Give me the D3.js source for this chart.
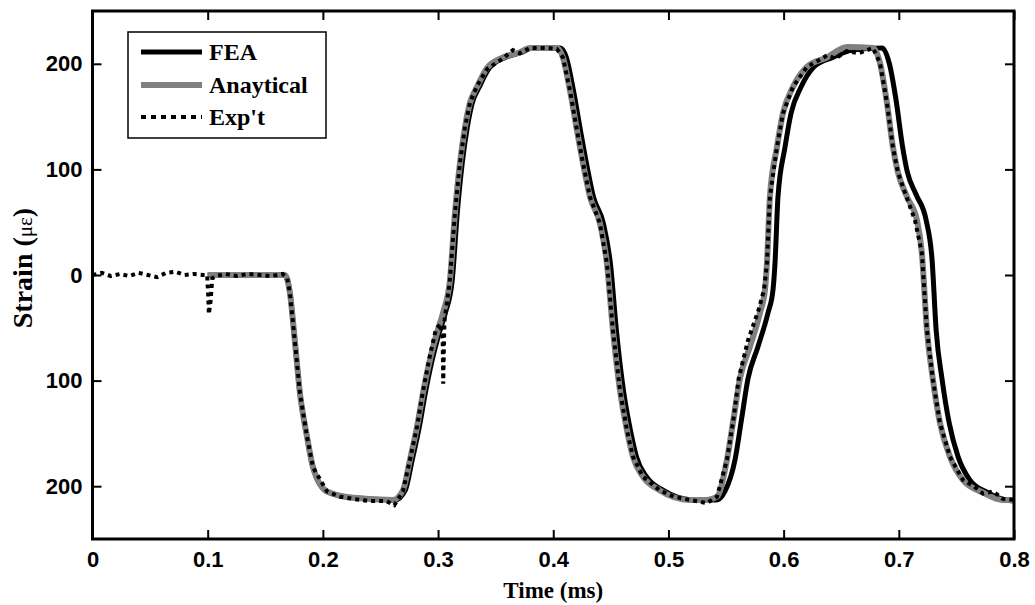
<!DOCTYPE html>
<html>
<head>
<meta charset="utf-8">
<script src="https://cdn.jsdelivr.net/npm/d3@7"></script>
<style>
  body { margin: 0; background: #fff; }
  .tick text { font-family: "Liberation Sans", Arial, sans-serif; font-weight: bold; font-size: 22px; fill: #000; }
  .tick line { stroke: #000; stroke-width: 2; }
</style>
</head>
<body>
<div id="chart"></div>
<script>
// time in ms, strain in microstrain
var feaT = [0.100, 0.167, 0.1714, 0.1758, 0.1801, 0.1862, 0.1914, 0.2036, 0.2261, 0.2630, 0.2715, 0.2776, 0.2837, 0.2889, 0.2950, 0.3010, 0.3063, 0.3123, 0.3167, 0.3210, 0.3254, 0.3297, 0.3358, 0.3445, 0.3583, 0.3731, 0.3818, 0.4062, 0.4114, 0.4175, 0.4236, 0.4288, 0.4349, 0.4435, 0.4496, 0.4548, 0.4609, 0.4670, 0.4722, 0.4809, 0.4956, 0.5217, 0.5420, 0.5490, 0.5578, 0.5634, 0.5691, 0.5777, 0.5864, 0.5908, 0.5925, 0.5951, 0.6012, 0.6064, 0.6151, 0.6262, 0.6426, 0.6599, 0.6855, 0.6916, 0.6977, 0.7029, 0.7073, 0.7151, 0.7237, 0.7289, 0.7324, 0.7376, 0.7437, 0.7514, 0.7616, 0.7770, 0.7920, 0.800];
var feaV = [0, 0, -17, -64, -112, -153, -182, -205, -211, -213, -204, -175, -144, -112, -80, -55, -36, -5, 59, 106, 140, 163, 178, 196, 206, 211, 215, 215, 206, 175, 137, 106, 74, 49, 11, -52, -109, -147, -172, -191, -204, -213, -213, -205, -175, -137, -98, -68, -36, -14, 11, 74, 121, 153, 178, 197, 206, 213, 215, 201, 165, 124, 98, 76, 52, 14, -52, -99, -140, -172, -194, -206, -213, -214];

var anaT = [0.100, 0.167, 0.1714, 0.1758, 0.1801, 0.1862, 0.1914, 0.2036, 0.2261, 0.2609, 0.2695, 0.2756, 0.2817, 0.2869, 0.2930, 0.2990, 0.3043, 0.3103, 0.3147, 0.3190, 0.3234, 0.3277, 0.3338, 0.3425, 0.3563, 0.3711, 0.3798, 0.4032, 0.4084, 0.4145, 0.4206, 0.4258, 0.4319, 0.4405, 0.4466, 0.4518, 0.4579, 0.4640, 0.4692, 0.4779, 0.4926, 0.5187, 0.5334, 0.5421, 0.5508, 0.5564, 0.5621, 0.5707, 0.5794, 0.5838, 0.5855, 0.5881, 0.5942, 0.5994, 0.6081, 0.6202, 0.6376, 0.6549, 0.6775, 0.6836, 0.6897, 0.6949, 0.6993, 0.7071, 0.7157, 0.7200, 0.7244, 0.7296, 0.7357, 0.7444, 0.7556, 0.7730, 0.7904, 0.800];
var anaV = [0, 0, -17, -64, -112, -153, -182, -205, -211, -213, -204, -175, -144, -112, -80, -55, -36, -5, 59, 106, 140, 163, 178, 196, 206, 211, 215, 215, 206, 175, 137, 106, 74, 49, 11, -52, -109, -147, -172, -191, -204, -213, -213, -210, -175, -137, -98, -68, -36, -14, 11, 74, 121, 153, 178, 197, 206, 216, 215, 201, 163, 121, 97, 74, 52, 21, -52, -99, -140, -172, -194, -206, -213, -213];

var expT = [0.000, 0.008, 0.016, 0.024, 0.032, 0.040, 0.048, 0.056, 0.064, 0.072, 0.080, 0.088, 0.096, 0.0995, 0.1005, 0.1010, 0.1025, 0.1040, 0.1080, 0.115, 0.125, 0.135, 0.145, 0.155, 0.165, 0.1690, 0.1714, 0.1758, 0.1801, 0.1862, 0.1914, 0.2036, 0.2150, 0.2261, 0.2400, 0.2550, 0.2620, 0.2695, 0.2756, 0.2817, 0.2869, 0.2930, 0.2980, 0.3020, 0.3040, 0.3045, 0.3055, 0.3100, 0.3147, 0.3190, 0.3234, 0.3277, 0.3338, 0.3425, 0.3563, 0.3650, 0.3711, 0.3798, 0.3950, 0.4032, 0.4084, 0.4145, 0.4206, 0.4258, 0.4319, 0.4405, 0.4466, 0.4518, 0.4579, 0.4640, 0.4692, 0.4779, 0.4926, 0.5050, 0.5187, 0.5334, 0.5421, 0.5508, 0.5564, 0.5610, 0.5690, 0.5780, 0.5830, 0.5855, 0.5881, 0.5942, 0.5994, 0.6081, 0.6202, 0.6300, 0.6376, 0.6450, 0.6549, 0.6650, 0.6775, 0.6836, 0.6897, 0.6949, 0.6993, 0.7060, 0.7140, 0.7200, 0.7244, 0.7296, 0.7357, 0.7444, 0.7556, 0.7650, 0.7730, 0.7820, 0.7904, 0.800];
var expV = [0, 2, -1, 1, -1, 2, 0, -2, 2, 3, 0, 1, 0, 0, -20, -37, -25, -3, -1, 1, -1, 1, 0, -1, 1, -3, -17, -64, -112, -153, -182, -205, -210, -212, -214, -214, -218, -205, -175, -144, -110, -76, -52, -46, -60, -103, -44, -8, 59, 106, 140, 163, 179, 195, 205, 213, 210, 215, 215, 214, 206, 175, 137, 106, 74, 49, 11, -52, -109, -147, -172, -191, -204, -210, -213, -216, -210, -175, -137, -98, -62, -34, -14, 11, 74, 121, 153, 178, 197, 203, 208, 205, 212, 210, 215, 201, 163, 121, 97, 76, 52, 21, -52, -99, -140, -172, -194, -200, -207, -205, -212, -213];

var xTicks = [0, 0.1, 0.2, 0.3, 0.4, 0.5, 0.6, 0.7, 0.8];
var xTickLabels = ["0", "0.1", "0.2", "0.3", "0.4", "0.5", "0.6", "0.7", "0.8"];
var yTicks = [200, 100, 0, -100, -200];
var yTickLabels = ["200", "100", "0", "100", "200"];

var seriesNames = ["FEA", "Anaytical", "Exp't"];

var W = 1035, H = 605;
var padL = 92.5, padR = 1014, padT = 11, padB = 539;

var svg = d3.select("#chart").append("svg")
    .attr("width", W)
    .attr("height", H);

var x = d3.scaleLinear().domain([0, 0.8]).range([padL, padR]);
var y = d3.scaleLinear().domain([-250, 250]).range([padB, padT]);

function pts(ts, vs) {
    return ts.map(function(t, i) { return [t, vs[i]]; });
}

var line = d3.line()
    .x(function(d) { return x(d[0]); })
    .y(function(d) { return y(d[1]); })
    .curve(d3.curveMonotoneX);

// curves
svg.append("path")
    .datum(pts(feaT, feaV))
    .attr("d", line)
    .attr("fill", "none")
    .attr("stroke", "#000")
    .attr("stroke-width", 5)
    .attr("stroke-linejoin", "round");

svg.append("path")
    .datum(pts(anaT, anaV))
    .attr("d", line)
    .attr("fill", "none")
    .attr("stroke", "#808080")
    .attr("stroke-width", 6)
    .attr("stroke-linejoin", "round");

svg.append("path")
    .datum(pts(expT, expV))
    .attr("d", d3.line()
        .x(function(d) { return x(d[0]); })
        .y(function(d) { return y(d[1]); }))
    .attr("fill", "none")
    .attr("stroke", "#000")
    .attr("stroke-width", 4)
    .attr("stroke-dasharray", "4,4");

// axes, ticks pointing inward
var xAxis = d3.axisBottom(x).tickValues(xTicks)
    .tickFormat(function(d, i) { return xTickLabels[i]; })
    .tickSizeInner(-9).tickSizeOuter(0).tickPadding(12);
var gx = svg.append("g").attr("transform", "translate(0," + padB + ")").call(xAxis);

var yAxis = d3.axisLeft(y).tickValues(yTicks)
    .tickFormat(function(d, i) { return yTickLabels[i]; })
    .tickSizeInner(-9).tickSizeOuter(0).tickPadding(10);
var gy = svg.append("g").attr("transform", "translate(" + padL + ",0)").call(yAxis);

var gt = svg.append("g").attr("transform", "translate(0," + padT + ")")
    .call(d3.axisTop(x).tickValues(xTicks).tickFormat("").tickSizeInner(-9).tickSizeOuter(0));
var gr = svg.append("g").attr("transform", "translate(" + padR + ",0)")
    .call(d3.axisRight(y).tickValues(yTicks).tickFormat("").tickSizeInner(-9).tickSizeOuter(0));

[gx, gy, gt, gr].forEach(function(g) { g.select(".domain").remove(); });

svg.append("rect")
    .attr("x", padL).attr("y", padT)
    .attr("width", padR - padL).attr("height", padB - padT)
    .attr("fill", "none")
    .attr("stroke", "#000")
    .attr("stroke-width", 3);

// axis titles
svg.append("text")
    .attr("x", (padL + padR) / 2)
    .attr("y", 598)
    .attr("text-anchor", "middle")
    .style("font-family", "'Liberation Serif', 'Times New Roman', serif")
    .style("font-weight", "bold")
    .style("font-size", "23px")
    .text("Time (ms)");

var yt = svg.append("text")
    .attr("transform", "translate(32,268) rotate(-90)")
    .attr("text-anchor", "middle")
    .style("font-family", "'Liberation Serif', 'Times New Roman', serif")
    .style("font-weight", "bold")
    .style("font-size", "28px");
yt.append("tspan").text("Strain (");
yt.append("tspan").style("font-size", "21px").style("font-weight", "normal").text("με");
yt.append("tspan").text(")");

// legend
var lg = svg.append("g");
lg.append("rect")
    .attr("x", 128).attr("y", 32)
    .attr("width", 198).attr("height", 106)
    .attr("fill", "#fff")
    .attr("stroke", "#000")
    .attr("stroke-width", 1.5);

var legStyles = [
    { color: "#000", width: 5, dash: null },
    { color: "#808080", width: 6, dash: null },
    { color: "#000", width: 4, dash: "5,5" }
];
var legY = [52, 85, 117];

seriesNames.forEach(function(name, i) {
    lg.append("line")
        .attr("x1", 141).attr("x2", 202)
        .attr("y1", legY[i]).attr("y2", legY[i])
        .attr("stroke", legStyles[i].color)
        .attr("stroke-width", legStyles[i].width)
        .attr("stroke-dasharray", legStyles[i].dash);
    lg.append("text")
        .attr("x", 209)
        .attr("y", legY[i])
        .attr("dy", "0.35em")
        .style("font-family", "'Liberation Serif', 'Times New Roman', serif")
        .style("font-weight", "bold")
        .style("font-size", "24px")
        .text(name);
});
</script>
</body>
</html>
